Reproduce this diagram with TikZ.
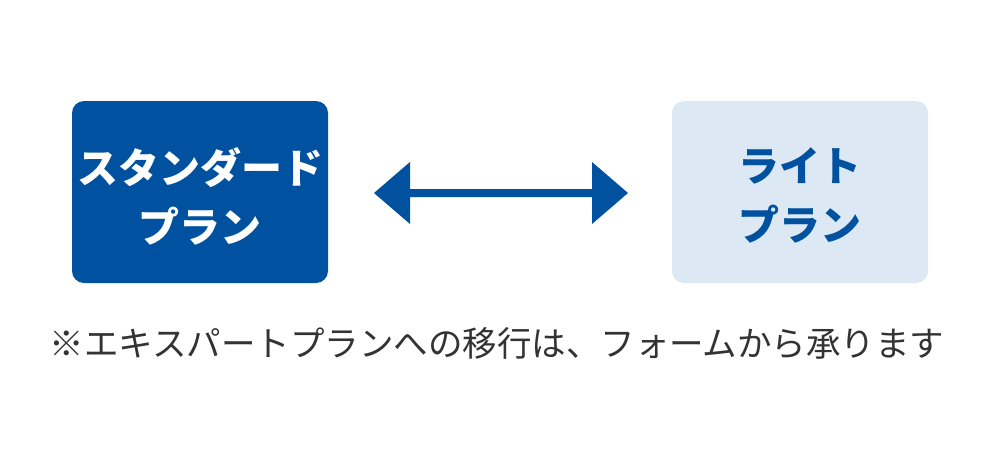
\documentclass[tikz,border=0pt]{standalone}
\usepackage{fontspec}
\newfontfamily\cjk{Noto Sans CJK JP}
\definecolor{navy}{HTML}{00519F}
\definecolor{pale}{HTML}{DDE8F5}
\definecolor{txt}{HTML}{333333}
\begin{document}
\begin{tikzpicture}[x=1pt,y=-1pt,
  plan/.style={minimum width=256pt,minimum height=182pt,rounded corners=12pt,inner sep=0pt,align=center,
    font=\cjk\bfseries\fontsize{41}{59}\selectfont},
  darkplan/.style={plan,fill=navy,text=white},
  lightplan/.style={plan,fill=pale,text=navy},
  note/.style={font=\cjk\fontsize{34.5}{40}\selectfont,text=txt,inner sep=0pt}]
\useasboundingbox (0,0) rectangle (1000,450);
\node[darkplan] (std) at (200,192) {};
\node[lightplan] (lite) at (800,192) {};
\node[plan,text=white] (stdt) at (200,196) {スタンダード\\プラン};
\node[plan,text=navy] (litet) at (800,195) {ライト\\プラン};
\coordinate (al) at (374,193);
\coordinate (ar) at (628,193);
\fill[navy] (al) -- ++(36,-31) -- ++(0,27) -- ++(182,0) -- ++(0,-27) -- (ar) -- ++(-36,31) -- ++(0,-27) -- ++(-182,0) -- ++(0,27) -- cycle;
\node[note] (n) at (497,343) {※エキスパートプランへの移行は、フォームから承ります};
\end{tikzpicture}
\end{document}
